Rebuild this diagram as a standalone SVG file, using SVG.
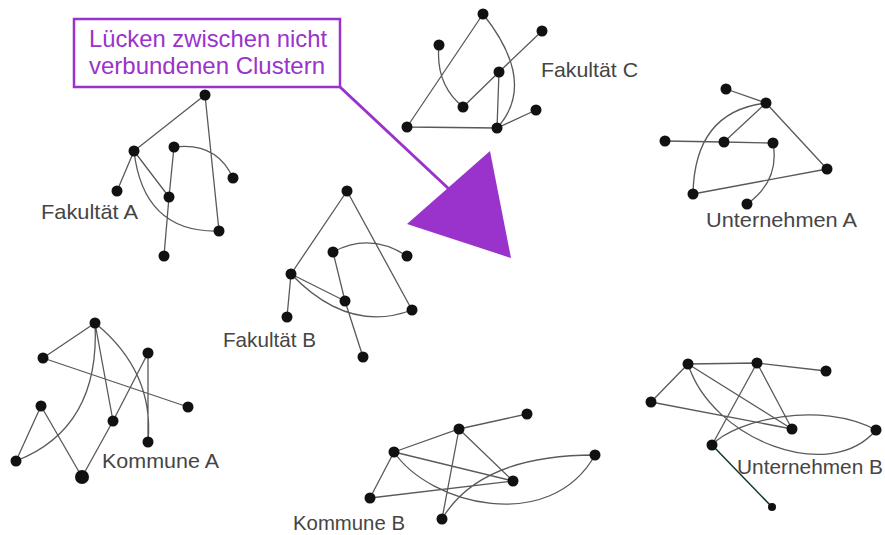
<svg xmlns="http://www.w3.org/2000/svg" width="885" height="535" viewBox="0 0 885 535">
<style>
.e{fill:none;stroke:#595959;stroke-width:1.3;stroke-linecap:round}
.n{fill:#111}
.lbl{font-family:"Liberation Sans",Arial,sans-serif;font-size:21px;fill:#454545}
.call{font-family:"Liberation Sans",Arial,sans-serif;font-size:24px;fill:#9933cc}
</style>
<rect width="885" height="535" fill="#ffffff"/>
<g id="connectors">
<path class="e" d="M205,95 L134,151 M205,95 L219,231 M134,151 L117,191 M134,151 L169,197 M134,151 Q143.5,233 219,231 M174,147 Q216.5,141.5 233,178 M174,147 L169,197 L164,256"/>
<path class="e" d="M407,127 L483,14 M483,14 Q538,83 497,128 M439,45 Q435,84 463,107 M463,107 L499,72 L542,31 M499,72 L497,128 M407,127 L497,128 L536,110"/>
<path class="e" d="M726,89 L766,103 M766,103 L724,142 M766,103 L827,169 M766,103 Q694.5,111.5 693,194 M665,141 L724,142 L773,143 M773,143 Q780,180.5 747,204 M693,194 L827,169"/>
<path class="e" d="M347,191 L291,274 M347,191 L412,310 M333,252 Q370,232 407,256 M333,252 L345,301 L363,357 M291,274 L345,301 M291,274 Q348.5,334 412,310 M291,274 L287,317"/>
<path class="e" d="M95,323 L43,358 M43,358 L188,407 M95,323 L113,421 M95,323 Q154.5,371.5 148,442 M95,323 Q100.5,428 16,461 M148,353 L113,421 M148,353 L148,442 M41,406 L16,461 M41,406 L82,477 M113,421 L82,477"/>
<path class="e" d="M394,452 L459,429 L527,414 M394,452 L513,481 M459,429 L513,481 M459,429 L442,519 M394,452 L370,498 M370,498 L513,481 M394,452 C430,505 550,535 595,455 M442,519 Q480,455 595,455"/>
<path class="e" d="M688,364 L757,363 L826,371 M688,364 L651,402 M688,364 L792,429 M757,363 L792,429 M757,363 L712,445 M651,402 L792,429 M688,364 C712,440 830,485 876,430 M712,445 C735,420 820,400 876,430"/>
<line x1="712" y1="445" x2="772" y2="507" stroke="#0f3333" stroke-width="1.5"/>
<line x1="340" y1="87" x2="450" y2="190" stroke="#9933cc" stroke-width="3"/>
<polygon points="490,151 407,224 511,258" fill="#9933cc"/>
</g>
<g id="callout">
<rect x="74" y="19" width="266" height="68" fill="#ffffff" stroke="#9933cc" stroke-width="2.5"/>
<text class="call" x="89" y="47" textLength="238" lengthAdjust="spacingAndGlyphs">Lücken zwischen nicht</text>
<text class="call" x="89" y="74" textLength="236" lengthAdjust="spacingAndGlyphs">verbundenen Clustern</text>
</g>
<g id="fakultaet-a">
<circle class="n" cx="205" cy="95" r="5.5"/><circle class="n" cx="134" cy="151" r="5.5"/><circle class="n" cx="174" cy="147" r="5.5"/><circle class="n" cx="233" cy="178" r="5.5"/><circle class="n" cx="117" cy="191" r="5.5"/><circle class="n" cx="169" cy="197" r="5.5"/><circle class="n" cx="219" cy="231" r="5.5"/><circle class="n" cx="164" cy="256" r="5.5"/>
<text class="lbl" x="41" y="219" textLength="97" lengthAdjust="spacingAndGlyphs">Fakultät A</text>
</g>
<g id="fakultaet-c">
<circle class="n" cx="483" cy="14" r="5.5"/><circle class="n" cx="542" cy="31" r="5.5"/><circle class="n" cx="439" cy="45" r="5.5"/><circle class="n" cx="499" cy="72" r="5.5"/><circle class="n" cx="463" cy="107" r="5.5"/><circle class="n" cx="536" cy="110" r="5.5"/><circle class="n" cx="407" cy="127" r="5.5"/><circle class="n" cx="497" cy="128" r="5.5"/>
<text class="lbl" x="541" y="77" textLength="97" lengthAdjust="spacingAndGlyphs">Fakultät C</text>
</g>
<g id="unternehmen-a">
<circle class="n" cx="726" cy="89" r="5.5"/><circle class="n" cx="766" cy="103" r="5.5"/><circle class="n" cx="665" cy="141" r="5.5"/><circle class="n" cx="724" cy="142" r="5.5"/><circle class="n" cx="773" cy="143" r="5.5"/><circle class="n" cx="827" cy="169" r="5.5"/><circle class="n" cx="693" cy="194" r="5.5"/><circle class="n" cx="747" cy="204" r="5.5"/>
<text class="lbl" x="706" y="227" textLength="151" lengthAdjust="spacingAndGlyphs">Unternehmen A</text>
</g>
<g id="fakultaet-b">
<circle class="n" cx="347" cy="191" r="5.5"/><circle class="n" cx="333" cy="252" r="5.5"/><circle class="n" cx="407" cy="256" r="5.5"/><circle class="n" cx="291" cy="274" r="5.5"/><circle class="n" cx="345" cy="301" r="5.5"/><circle class="n" cx="412" cy="310" r="5.5"/><circle class="n" cx="287" cy="317" r="5.5"/><circle class="n" cx="363" cy="357" r="5.5"/>
<text class="lbl" x="223" y="347" textLength="93" lengthAdjust="spacingAndGlyphs">Fakultät B</text>
</g>
<g id="kommune-a">
<circle class="n" cx="95" cy="323" r="5.5"/><circle class="n" cx="43" cy="358" r="5.5"/><circle class="n" cx="148" cy="353" r="5.5"/><circle class="n" cx="41" cy="406" r="5.5"/><circle class="n" cx="188" cy="407" r="5.5"/><circle class="n" cx="113" cy="421" r="5.5"/><circle class="n" cx="148" cy="442" r="5.5"/><circle class="n" cx="16" cy="461" r="5.5"/><circle class="n" cx="82" cy="477" r="7"/>
<text class="lbl" x="102" y="468" textLength="117" lengthAdjust="spacingAndGlyphs">Kommune A</text>
</g>
<g id="kommune-b">
<circle class="n" cx="527" cy="414" r="5.5"/><circle class="n" cx="459" cy="429" r="5.5"/><circle class="n" cx="394" cy="452" r="5.5"/><circle class="n" cx="595" cy="455" r="5.5"/><circle class="n" cx="513" cy="481" r="5.5"/><circle class="n" cx="370" cy="498" r="5.5"/><circle class="n" cx="442" cy="519" r="5.5"/>
<text class="lbl" x="293" y="530" textLength="112" lengthAdjust="spacingAndGlyphs">Kommune B</text>
</g>
<g id="unternehmen-b">
<circle class="n" cx="688" cy="364" r="5.5"/><circle class="n" cx="757" cy="363" r="5.5"/><circle class="n" cx="826" cy="371" r="5.5"/><circle class="n" cx="651" cy="402" r="5.5"/><circle class="n" cx="792" cy="429" r="5.5"/><circle class="n" cx="876" cy="430" r="5.5"/><circle class="n" cx="712" cy="445" r="5.5"/><circle class="n" cx="772" cy="507" r="4"/>
<text class="lbl" x="737" y="474" textLength="146" lengthAdjust="spacingAndGlyphs">Unternehmen B</text>
</g>
</svg>
